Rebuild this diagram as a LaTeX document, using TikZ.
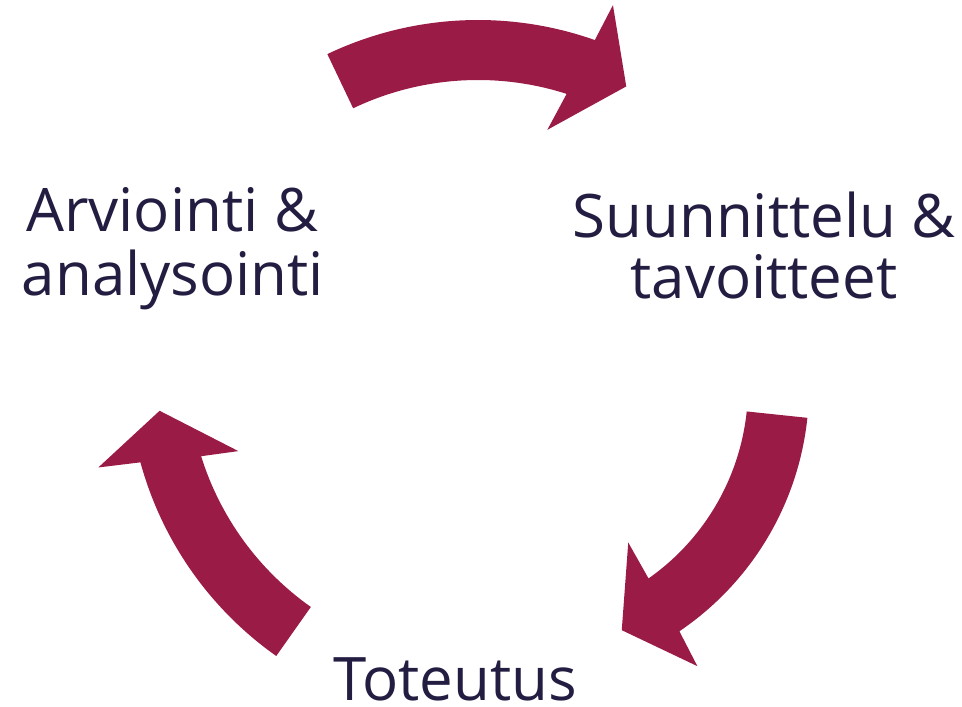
\documentclass[tikz,border=0pt]{standalone}
\usepackage{fontspec}
\setmainfont{Open Sans}
\definecolor{arrowred}{HTML}{9A1B45}
\definecolor{textnavy}{HTML}{231D42}

\begin{document}
\begin{tikzpicture}[x=1pt,y=1pt,
	lbl/.style={text=textnavy,font=\fontsize{60}{72}\selectfont,inner sep=0,outer sep=0,anchor=base},
	cyclearrow/.style={fill=arrowred,draw=none}]
	\useasboundingbox (0,0) rectangle (962,707);
	\coordinate (c1) at (478,337);
	\coordinate (c2) at (514,320);
	% top arrow
	\fill[cyclearrow] ([shift={(115.5:350)}]c1) arc[start angle=115.5,end angle=70.5,radius=350] -- ([shift={(69.7:389)}]c1) -- ([shift={(62.4:320)}]c1) -- ([shift={(73.9:250)}]c1) -- ([shift={(72.2:290)}]c1) arc[start angle=72.2,end angle=115.5,radius=290] -- cycle;
	% right arrow
	\fill[cyclearrow] ([shift={(-6:295)}]c2) arc[start angle=-6,end angle=-55.9,radius=295] -- ([shift={(-56.7:334)}]c2) -- ([shift={(-66.1:266)}]c2) -- ([shift={(-53.7:193)}]c2) -- ([shift={(-54.9:234)}]c2) arc[start angle=-54.9,end angle=-6,radius=234] -- cycle;
	% left arrow
	\fill[cyclearrow] ([shift={(234.8:350)}]c1) arc[start angle=234.8,end angle=195.3,radius=350] -- ([shift={(194.4:392)}]c1) -- ([shift={(187.3:321)}]c1) -- ([shift={(198.7:253)}]c1) -- ([shift={(197.3:290)}]c1) arc[start angle=197.3,end angle=234.8,radius=290] -- cycle;
	% labels
	\node[lbl] (a1) at (172,475) {Arviointi \&};
	\node[lbl] (a2) at (173,411) {analysointi};
	\node[lbl] (s1) at (764,469) {Suunnittelu \&};
	\node[lbl] (s2) at (764,408) {tavoitteet};
	\node[lbl] (t) at (455,6) {Toteutus};
\end{tikzpicture}
\end{document}
